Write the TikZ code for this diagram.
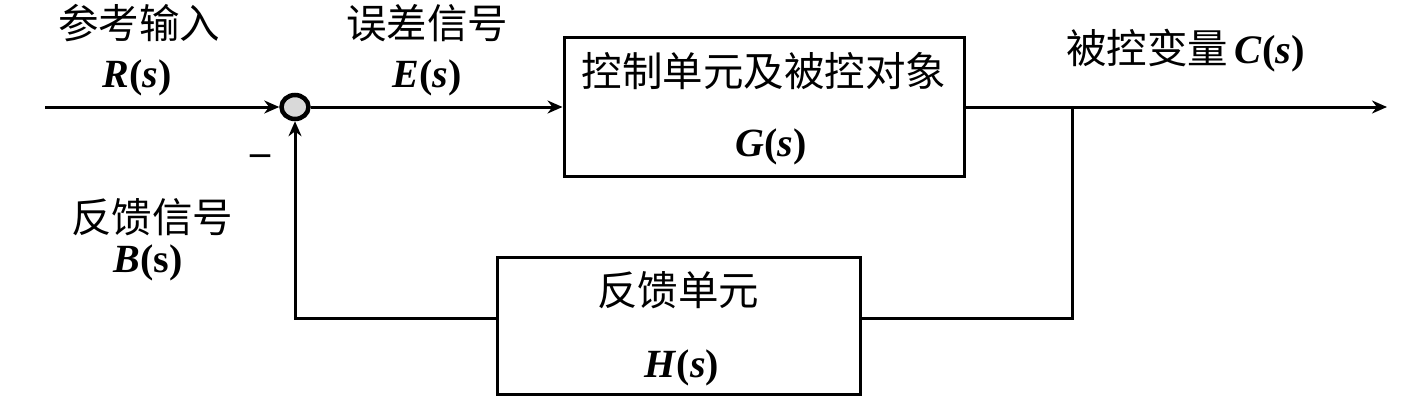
\documentclass[tikz,border=0pt]{standalone}
\usepackage{fontspec}
\setmainfont{Liberation Serif}
\newfontfamily\cjk{Noto Sans CJK SC}
\usetikzlibrary{arrows.meta,shapes.geometric}
\begin{document}
\begin{tikzpicture}[x=1pt,y=-1pt,
  blk/.style={draw,line width=3pt},
  cjklbl/.style={font=\cjk\fontsize{40.5}{46}\selectfont,inner sep=0pt},
  latlbl/.style={font=\fontsize{40}{46}\selectfont\bfseries,inner sep=0pt},
  conn/.style={line width=3pt},
  arr/.style={conn,-{Stealth[length=15pt,width=13pt]}}]
\useasboundingbox[fill=white] (0,0) rectangle (1422,404);
% blocks
\node[blk,minimum width=400pt,minimum height=138pt] (G) at (764,107) {};
\node[blk,minimum width=363pt,minimum height=137pt] (H) at (678.5,325.5) {};
\node[ellipse,draw,line width=4.5pt,fill=gray!30,minimum width=27pt,minimum height=24pt,inner sep=0pt] (S) at (295,107) {};
\coordinate (in) at (45,107);
\coordinate (out) at (1387,107);
\coordinate (br) at (1072,107);
% texts
\node[cjklbl] (tR) at (139,23) {参考输入};
\node[latlbl] (R) at (137,78) {\textit{R}(\textit{s})};
\node[cjklbl] (tE) at (427,23) {误差信号};
\node[latlbl] (E) at (427,78) {\textit{E}(\textit{s})};
\node[cjklbl] (tB) at (152,217) {反馈信号};
\node[latlbl] (B) at (148,263) {\textit{B}(s)};
\node[latlbl] (minus) at (260,160) {--};
\node[cjklbl] (tG) at (764,71) {控制单元及被控对象};
\node[latlbl] (Gs) at (771,147) {\textit{G}(\textit{s})};
\node[cjklbl,anchor=west] (tC) at (1066,51) {被控变量\,\fontspec{Liberation Serif}\bfseries\textit{C}(\textit{s})};
\node[cjklbl] (tH) at (678,290) {反馈单元};
\node[latlbl] (Hs) at (682,368) {\textit{H}(\textit{s})};
% connectors
\draw[arr] (in) -- (S.west);
\draw[arr] (S.east) -- (G.west);
\draw[arr] (G.east) -- (out);
\draw[conn] (br) |- ([yshift=7pt]H.east);
\draw[arr] ([yshift=7pt]H.west) -| (S.south);
\end{tikzpicture}
\end{document}
